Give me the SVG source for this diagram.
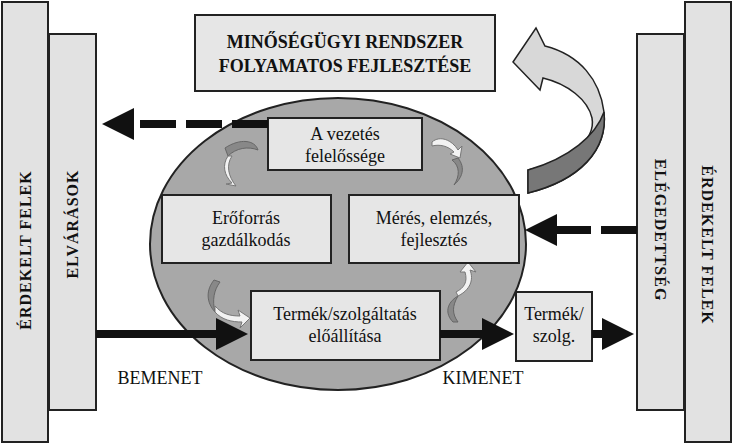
<svg xmlns="http://www.w3.org/2000/svg" width="733" height="445" viewBox="0 0 733 445">
<style>
.bar{fill:#e2e2e2;stroke:#222;stroke-width:2}
.box{fill:#e6e6e6;stroke:#222;stroke-width:2}
.t{font-family:"Liberation Serif","DejaVu Serif",serif;font-size:18px;fill:#111;text-anchor:middle}
.b{font-weight:bold;font-size:16px;letter-spacing:1px}
.sa{fill:#f2f2f2;stroke:#777;stroke-width:1}
.da{fill:#888;stroke:#666;stroke-width:1}
</style>
<defs>
<marker id="ah" markerWidth="4" markerHeight="4" refX="3" refY="2" orient="auto" markerUnits="strokeWidth"><path d="M0,0 L4,2 L0,4 z" fill="#111"/></marker>
</defs>
<rect width="733" height="445" fill="#fff"/>
<g id="left-outer"><rect class="bar" x="2" y="2" width="46" height="440"/><text class="t b" transform="translate(31,250) rotate(-90)">ÉRDEKELT FELEK</text></g>
<g id="left-inner"><rect class="bar" x="49" y="34" width="47" height="376"/><text class="t b" transform="translate(78,224) rotate(-90)">ELVÁRÁSOK</text></g>
<g id="right-inner"><rect class="bar" x="637" y="34" width="47" height="376"/><text class="t b" transform="translate(655,230) rotate(90)">ELÉGEDETTSÉG</text></g>
<g id="right-outer"><rect class="bar" x="685" y="2" width="46" height="440"/><text class="t b" transform="translate(702,245) rotate(90)">ÉRDEKELT FELEK</text></g>
<g id="top"><rect class="box" x="195" y="15" width="300" height="76"/><text class="t" style="font-weight:bold" x="345" y="48">MINŐSÉGÜGYI RENDSZER</text><text class="t" style="font-weight:bold" x="345" y="72">FOLYAMATOS FEJLESZTÉSE</text></g>
<g id="cycle"><ellipse cx="338" cy="244" rx="188" ry="146" fill="#a8a8a8" stroke="#222" stroke-width="2"/></g>
<g id="curve-big">
<path d="M528,193 C580,180 608,150 604,112 C600,80 580,55 545,46 L536,28 L513,62 L540,90 L543,78 C568,84 588,100 592,118 C596,140 570,160 528,170 Z" fill="#d8d8d8" stroke="#222" stroke-width="1.5"/>
<path d="M528,193 C580,180 608,150 604,112 C596,135 570,158 528,170 Z" fill="#777" stroke="#222" stroke-width="1.5"/>
</g>
<g id="small-arrows">
<path class="da" d="M225,148 C240,138 255,140 258,150 C248,146 236,148 228,156 Z"/>
<path class="sa" d="M228,156 C222,165 224,175 232,183 L226,184 L236,186 C228,176 226,165 232,156 Z"/>
<path class="sa" d="M432,142 C440,135 452,140 458,150 L462,146 L460,158 L450,154 L454,152 C448,146 440,144 432,146 Z"/>
<path class="da" d="M458,158 C466,168 462,178 454,185 C460,176 460,166 452,160 Z"/>
<path class="da" d="M214,280 C206,290 206,302 215,312 C212,300 214,290 220,282 Z"/>
<path class="sa" d="M215,312 C222,320 232,322 242,322 L240,328 L250,318 L238,310 L240,316 C230,316 222,314 215,306 Z"/>
<path class="da" d="M453,322 C445,314 446,303 458,296 C452,306 452,314 458,322 Z"/>
<path class="sa" d="M458,296 C470,290 474,280 470,270 L476,272 L468,262 L460,272 L465,272 C468,282 464,288 456,292 Z"/>
</g>
<g id="n-vezetes"><rect class="box" x="268" y="118" width="154" height="52"/><text class="t" x="345" y="140">A vezetés</text><text class="t" x="345" y="162">felelőssége</text></g>
<g id="n-eroforras"><rect class="box" x="162" y="195" width="169" height="68"/><text class="t" x="246" y="224">Erőforrás</text><text class="t" x="246" y="246">gazdálkodás</text></g>
<g id="n-meres"><rect class="box" x="349" y="195" width="170" height="68"/><text class="t" x="434" y="224">Mérés, elemzés,</text><text class="t" x="434" y="246">fejlesztés</text></g>
<g id="n-termek"><rect class="box" x="251" y="291" width="189" height="69"/><text class="t" x="345" y="320">Termék/szolgáltatás</text><text class="t" x="345" y="342">előállítása</text></g>
<g id="n-termek2"><rect class="box" x="516" y="292" width="76" height="69"/><text class="t" x="554" y="320">Termék/</text><text class="t" x="554" y="342">szolg.</text></g>
<g id="connectors" stroke="#111" fill="none" stroke-width="8">
<line x1="268" y1="124" x2="110" y2="124" stroke-dasharray="36,10" marker-end="url(#ah)"/>
<line x1="637" y1="230" x2="533" y2="230" stroke-dasharray="36,10" marker-end="url(#ah)"/>
<line x1="96" y1="334" x2="240" y2="334" marker-end="url(#ah)"/>
<line x1="440" y1="334" x2="506" y2="334" marker-end="url(#ah)"/>
<line x1="592" y1="334" x2="626" y2="334" marker-end="url(#ah)"/>
</g>
<text class="t" x="160" y="384">BEMENET</text>
<text class="t" x="483" y="384">KIMENET</text>
</svg>
